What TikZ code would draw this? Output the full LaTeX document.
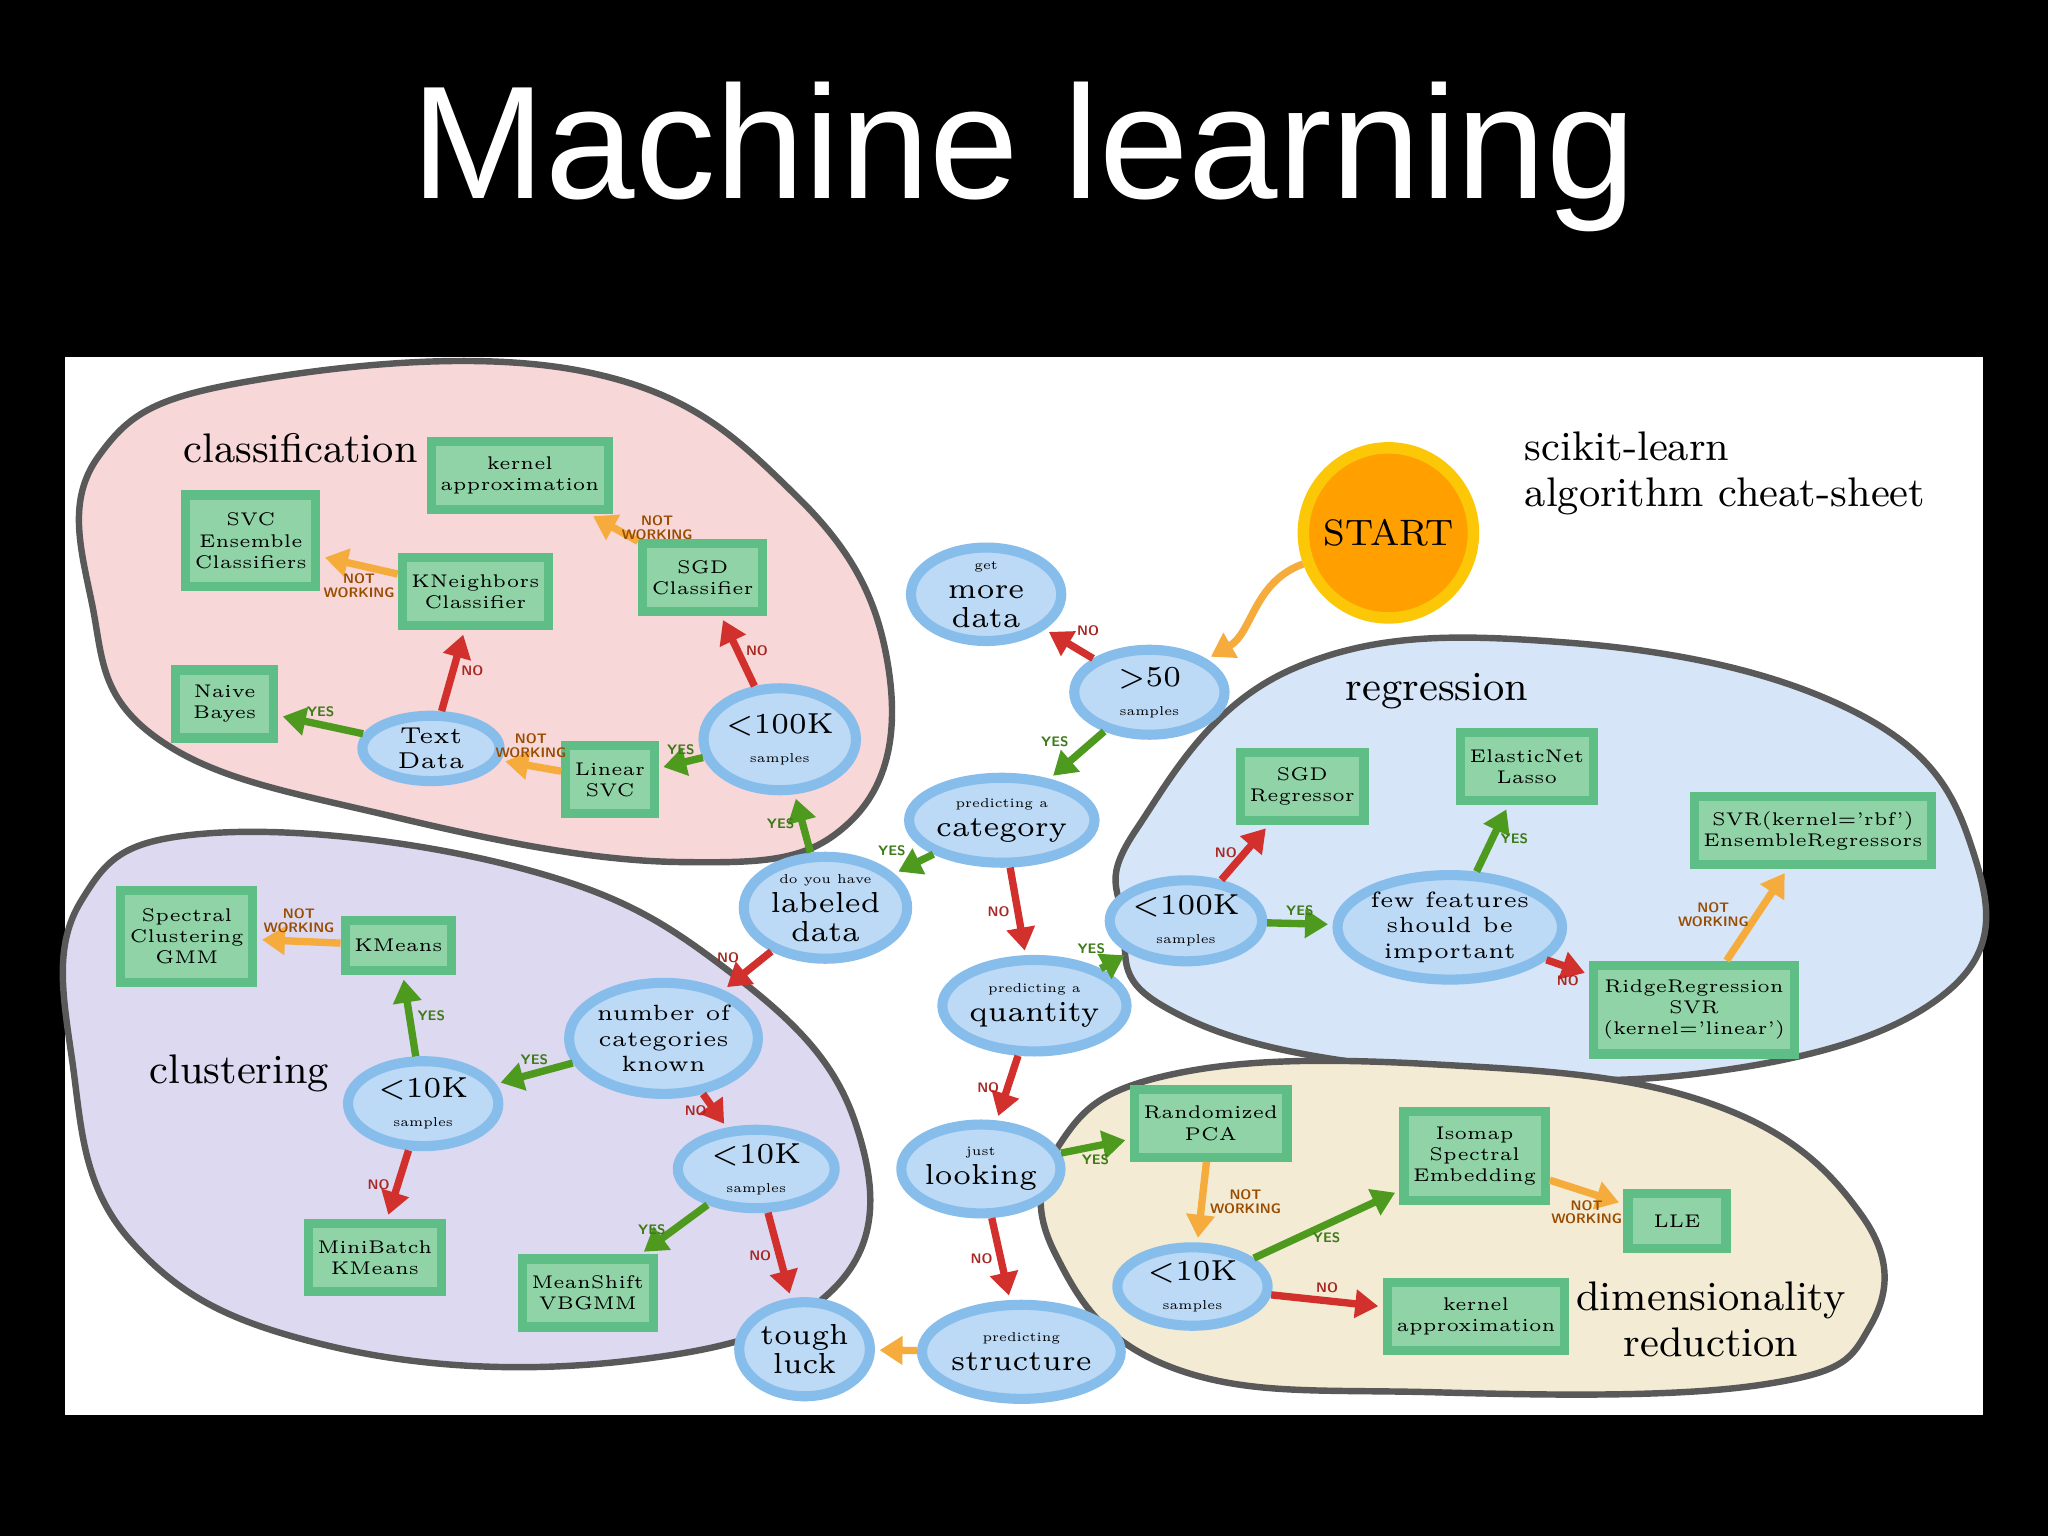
\documentclass[tikz,border=0pt]{standalone}
\usepackage{fontspec}
\newfontfamily\titlefont{Liberation Sans}
\usetikzlibrary{shapes.geometric,arrows.meta}
\newcommand\smtxt[1]{{\fontsize{2.8}{3}\selectfont #1}}
\definecolor{ellfill}{HTML}{BCD9F5}
\definecolor{elldraw}{HTML}{86BDEB}
\definecolor{boxfill}{HTML}{8FD3A6}
\definecolor{boxdraw}{HTML}{5EBE85}
\definecolor{cpink}{HTML}{F7D7D7}
\definecolor{cviolet}{HTML}{DDD9F0}
\definecolor{cblue}{HTML}{D6E5F8}
\definecolor{cbeige}{HTML}{F3EBD3}
\definecolor{cgreen}{HTML}{4E9A1E}
\definecolor{cred}{HTML}{D2302C}
\definecolor{corange}{HTML}{F5AC3C}
\begin{document}
\begin{tikzpicture}[x=0.01cm,y=-0.01cm,
 ell/.style={ellipse,draw=elldraw,fill=ellfill,line width=2.2pt,minimum width=1.15cm,minimum height=0.65cm,inner sep=0pt,align=center,font=\fontsize{6.3}{6.3}\selectfont},
 box/.style={rectangle,draw=boxdraw,fill=boxfill,line width=2pt,minimum width=0.9cm,minimum height=0.52cm,inner sep=2pt,align=center,font=\fontsize{4}{4.6}\selectfont},
 arr/.style={line width=1.6pt,-{Triangle[length=5pt,width=6pt]},shorten >=1pt},
 yes/.style={arr,draw=cgreen},
 no/.style={arr,draw=cred},
 nw/.style={arr,draw=corange},
 lab/.style={font=\sffamily\bfseries\fontsize{3}{3}\selectfont,inner sep=1pt,align=center},
 ly/.style={lab,text=cgreen!80!black},
 ln/.style={lab,text=cred!80!black},
 lw/.style={lab,text=orange!60!black},
 blob/.style={draw=gray!70!black,line width=1.4pt},
 region/.style={font=\fontsize{9}{10}\selectfont}]
\fill[black] (0,0) rectangle (1568,1176);
\useasboundingbox (0,0) rectangle (1568,1176);
\node[text=white,font=\titlefont\fontsize{35}{35}\selectfont] (title) at (784,120) {Machine learning};
\fill[white] (50,273) rectangle (1518,1083);
% blobs
\filldraw[blob,fill=cpink] plot[smooth cycle,tension=0.7] coordinates {(75,350)(190,292)(450,285)(610,380)(680,510)(650,630)(520,660)(300,625)(120,565)(70,460)};
\filldraw[blob,fill=cviolet] plot[smooth cycle,tension=0.7] coordinates {(62,690)(160,638)(400,665)(560,745)(655,860)(640,985)(480,1042)(250,1030)(100,950)(55,810)};
\filldraw[blob,fill=cblue] plot[smooth cycle,tension=0.7] coordinates {(870,635)(990,512)(1200,492)(1420,545)(1510,650)(1490,760)(1300,822)(1050,815)(890,770)(860,705)};
\filldraw[blob,fill=cbeige] plot[smooth cycle,tension=0.7] coordinates {(812,875)(900,822)(1100,815)(1310,845)(1425,930)(1432,1015)(1350,1060)(1100,1066)(900,1048)(808,960)};
% titles
\node[region,anchor=west] (tclass) at (128,343) {classification};
\node[region,anchor=west] (tclust) at (102,822) {clustering};
\node[region,anchor=west] (treg) at (1018,529) {regression};
\node[region,align=center] (tdim) at (1310,1010) {dimensionality\\reduction};
\node[region,align=left,anchor=north west] (tsk) at (1155,318) {scikit-learn\\algorithm cheat-sheet};
% start
\node[circle,fill=orange!75!yellow,draw=yellow!60!orange,line width=2.5pt,minimum size=1.1cm,font=\fontsize{8}{8}\selectfont] (start) at (1063,408) {START};
% ellipses
\node[ell] (more) at (755,455) {\smtxt{get}\\more\\data};
\node[ell] (s50) at (880,530) {>50\\\smtxt{samples}};
\node[ell,minimum width=1.05cm] (cat) at (767,628) {\smtxt{predicting a}\\category};
\node[ell,minimum width=1.25cm,minimum height=0.78cm] (lab) at (632,695) {\smtxt{do you have}\\labeled\\data};
\node[ell,minimum width=1.05cm,minimum height=0.78cm] (c100) at (597,566) {<100K\\\smtxt{samples}};
\node[ell,minimum width=1.05cm,minimum height=0.5cm,font=\fontsize{5}{5.5}\selectfont] (text) at (330,573) {Text\\Data};
\node[ell,minimum width=1.05cm,minimum height=0.7cm] (quant) at (792,770) {\smtxt{predicting a}\\quantity};
\node[ell,minimum width=1.15cm,minimum height=0.62cm] (r100) at (908,705) {<100K\\\smtxt{samples}};
\node[ell,minimum width=1.7cm,minimum height=0.8cm,font=\fontsize{4.8}{5.6}\selectfont] (few) at (1110,710) {few features\\should be\\important};
\node[ell,minimum width=1.4cm,minimum height=0.85cm,font=\fontsize{4.8}{5.6}\selectfont] (ncat) at (508,795) {number of\\categories\\known};
\node[ell] (k10a) at (324,845) {<10K\\\smtxt{samples}};
\node[ell,minimum width=1.2cm,minimum height=0.6cm] (k10b) at (579,895) {<10K\\\smtxt{samples}};
\node[ell,minimum width=1.0cm,minimum height=0.68cm] (look) at (751,895) {\smtxt{just}\\looking};
\node[ell,minimum width=1.0cm,minimum height=0.72cm] (tough) at (616,1033) {tough\\luck};
\node[ell,minimum width=1.05cm,minimum height=0.72cm] (struct) at (782,1035) {\smtxt{predicting}\\structure};
\node[ell,minimum width=1.15cm,minimum height=0.6cm] (k10c) at (913,985) {<10K\\\smtxt{samples}};
% boxes
\node[box,minimum width=1.15cm] (kern1) at (398,364) {kernel\\approximation};
\node[box,minimum width=0.9cm,minimum height=0.7cm] (svc) at (192,414) {SVC\\Ensemble\\Classifiers};
\node[box] (knn) at (364,453) {KNeighbors\\Classifier};
\node[box,minimum width=0.8cm] (sgdc) at (538,442) {SGD\\Classifier};
\node[box,minimum width=0.75cm] (nb) at (172,539) {Naive\\Bayes};
\node[box,minimum width=0.6cm] (lsvc) at (467,597) {Linear\\SVC};
\node[box,minimum width=0.9cm,minimum height=0.7cm] (spec) at (143,717) {Spectral\\Clustering\\GMM};
\node[box,minimum width=0.75cm,minimum height=0.38cm] (km) at (305,724) {KMeans};
\node[box] (mini) at (287,963) {MiniBatch\\KMeans};
\node[box] (mean) at (450,990) {MeanShift\\VBGMM};
\node[box] (sgdr) at (997,602) {SGD\\Regressor};
\node[box] (elas) at (1169,587) {ElasticNet\\Lasso};
\node[box,minimum width=1.6cm] (svrr) at (1388,636) {SVR(kernel='rbf')\\EnsembleRegressors};
\node[box,minimum width=1.3cm,minimum height=0.68cm] (ridge) at (1297,773) {RidgeRegression\\SVR\\(kernel='linear')};
\node[box,minimum width=1.0cm] (rpca) at (927,860) {Randomized\\PCA};
\node[box,minimum width=0.8cm,minimum height=0.68cm] (iso) at (1129,885) {Isomap\\Spectral\\Embedding};
\node[box,minimum width=0.75cm,minimum height=0.42cm] (lle) at (1284,935) {LLE};
\node[box,minimum width=1.2cm] (kern2) at (1130,1008) {kernel\\approximation};
% edges
\draw[nw] (start) to[out=200,in=30] (s50);
\draw[no] (s50) -- node[ln,above right]{NO} (more);
\draw[yes] (s50) -- node[ly,above left]{YES} (cat);
\draw[yes] (cat) -- node[ly,above left]{YES} (lab);
\draw[no] (cat) -- node[ln,left]{NO} (quant);
\draw[yes] (lab) -- node[ly,left]{YES} (c100);
\draw[no] (lab) -- node[ln,above left]{NO} (ncat);
\draw[no] (c100) -- node[ln,right]{NO} (sgdc);
\draw[yes] (c100) -- node[ly,above]{YES} (lsvc);
\draw[nw] (sgdc) -- node[lw,right]{NOT\\WORKING} (kern1);
\draw[nw] (lsvc) -- node[lw,above]{NOT\\WORKING} (text);
\draw[yes] (text) -- node[ly,above]{YES} (nb);
\draw[no] (text) -- node[ln,right]{NO} (knn);
\draw[nw] (knn) -- node[lw,below]{NOT\\WORKING} (svc);
\draw[yes] (ncat) -- node[ly,above]{YES} (k10a);
\draw[no] (ncat) -- node[ln,left]{NO} (k10b);
\draw[yes] (k10a) -- node[ly,right]{YES} (km);
\draw[no] (k10a) -- node[ln,left]{NO} (mini);
\draw[nw] (km) -- node[lw,above]{NOT\\WORKING} (spec);
\draw[yes] (k10b) -- node[ly,left]{YES} (mean);
\draw[no] (k10b) -- node[ln,left]{NO} (tough);
\draw[yes] (quant) -- node[ly,above left,pos=0.45]{YES} (r100);
\draw[no] (quant) -- node[ln,left]{NO} (look);
\draw[no] (r100) -- node[ln,left]{NO} (sgdr);
\draw[yes] (r100) -- node[ly,above]{YES} (few);
\draw[yes] (few) -- node[ly,right]{YES} (elas);
\draw[no] (few) -- node[ln,below]{NO} (ridge);
\draw[nw] (ridge) -- node[lw,left]{NOT\\WORKING} (svrr);
\draw[yes] (look) -- node[ly,below]{YES} (rpca);
\draw[no] (look) -- node[ln,left]{NO} (struct);
\draw[nw] (struct) -- (tough);
\draw[nw] (rpca) -- node[lw,right]{NOT\\WORKING} (k10c);
\draw[yes] (k10c) -- node[ly,below]{YES} (iso);
\draw[no] (k10c) -- node[ln,above]{NO} (kern2);
\draw[nw] (iso) -- node[lw,below]{NOT\\WORKING} (lle);
\end{tikzpicture}
\end{document}
